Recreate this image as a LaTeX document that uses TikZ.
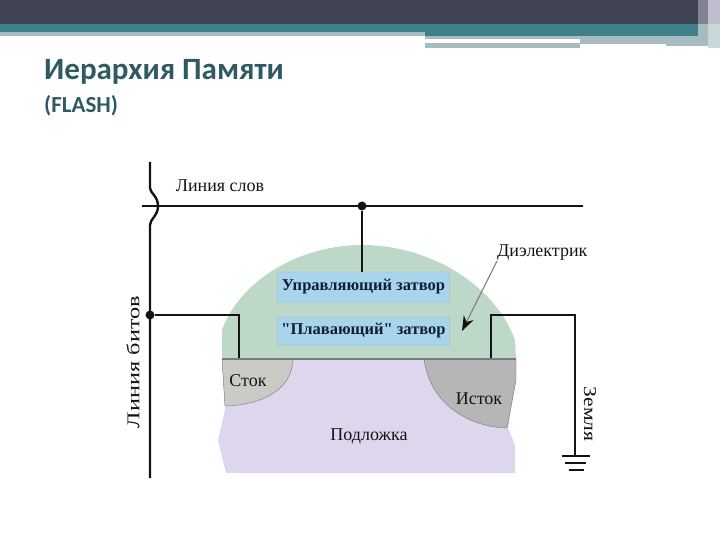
\documentclass[tikz,border=0pt]{standalone}
\usepackage{xcolor}
\usepackage{graphicx}
\usepackage{fontspec}
\setmainfont{Liberation Serif}
\newfontfamily\titlefont{Carlito}
\newfontfamily\gatefont{Liberation Serif}
\usetikzlibrary{arrows.meta, positioning, calc}
\definecolor{mydark}{RGB}{20,20,20}
\definecolor{hdrdark}{RGB}{64,68,85}
\definecolor{hdrteal}{RGB}{64,128,138}
\definecolor{hdrgrey}{RGB}{165,188,192}
\definecolor{hdrlav}{RGB}{190,190,205}
\definecolor{hdrstripe}{RGB}{130,132,150}
\definecolor{mytitle}{RGB}{47,90,99}
\definecolor{mygreen}{RGB}{190,216,200}
\definecolor{myblue}{RGB}{168,212,236}
\definecolor{mylav}{RGB}{222,214,236}
\definecolor{mydrain}{RGB}{202,202,198}
\definecolor{mysource}{RGB}{182,182,182}
\definecolor{myedge}{RGB}{120,120,125}
\definecolor{mynavy}{RGB}{15,30,60}
\tikzset{
  gatebox/.style={rectangle, fill=myblue, draw=myblue!85!black, minimum width=172pt, inner sep=0pt,
    font=\gatefont\fontsize{16.5}{18}\selectfont\bfseries, text=mynavy, rounded corners=1pt},
  lbl/.style={font=\fontsize{18}{20}\selectfont, text=mydark, inner sep=0pt},
  wire/.style={line width=2.4pt, color=mydark},
  wdot/.style={circle, fill=mydark, inner sep=0pt, minimum size=9pt}
}

\begin{document}
\begin{tikzpicture}[x=1pt, y=-1pt]
  \useasboundingbox (0,0) rectangle (720,540);
  % header bars
  \fill[hdrdark] (0,0) rectangle (720,24);
  \fill[hdrteal] (0,24) rectangle (720,32);
  \fill[hdrgrey] (0,32) rectangle (425,36);
  \fill[hdrteal] (425,32) rectangle (700,36);
  \fill[hdrgrey] (425,36) rectangle (700,39);
  \fill[hdrgrey] (425,43) rectangle (580,48);
  \fill[hdrgrey] (580,39) rectangle (666,44);
  \fill[hdrgrey] (666,36) rectangle (700,46);
  \fill[hdrstripe] (698,0) rectangle (708,24);
  \fill[hdrlav] (708,0) rectangle (720,24);
  \fill[hdrgrey] (698,24) rectangle (708,46);
  \fill[hdrgrey!60] (708,24) rectangle (720,48);
  % title
  \node[anchor=west, font=\titlefont\fontsize{31}{32}\selectfont\bfseries, text=mytitle, inner sep=0pt] (title) at (44,72) {Иерархия Памяти};
  \node[anchor=west, font=\titlefont\fontsize{23}{25}\selectfont\bfseries, text=mytitle, inner sep=0pt] (subtitle) at (44,106) {(FLASH)};
  % substrate
  \fill[mylav] (222,358) -- (225,410) -- (218,440) -- (226,473) -- (515,473) -- (515,445) -- (508,428) -- (516,380) -- (516,358) -- cycle;
  % drain and source
  \fill[mydrain, draw=myedge] (222,359) -- (293,359) .. controls (292,390) and (262,405) .. (225,406) -- cycle;
  \fill[mysource, draw=myedge] (424,359) -- (516,359) -- (516,380) -- (507,428) .. controls (470,427) and (430,405) .. (424,359) -- cycle;
  % floating gate dome
  \fill[mygreen] (222,358) -- (222,330) .. controls (240,280) and (300,245) .. (362,245) .. controls (430,245) and (495,285) .. (515,340) -- (516,358) -- cycle;
  \draw[myedge, line width=1.5pt] (222,359) -- (516,359);
  % gate boxes
  \node[gatebox, minimum height=30pt] (cgate) at (363.5,287) {Управляющий затвор};
  \node[gatebox, minimum height=28pt] (fgate) at (363.5,331) {"Плавающий" затвор};
  % named points
  \node[wdot] (wdot) at (362,206) {};
  \node[wdot] (bdot) at (150,315) {};
  \coordinate (wleft) at (142,206);
  \coordinate (wright) at (583,206);
  \coordinate (btop) at (150,162);
  \coordinate (bbot) at (150,478);
  \coordinate (drain) at (239,358);
  \coordinate (source) at (491,358);
  \coordinate (gnd) at (575,456);
  % word line and bit line
  \draw[wire] (wleft) -- (wright);
  \draw[wire] (btop) -- (150,188) .. controls (150,193) and (158,196) .. (158,206) .. controls (158,216) and (150,219) .. (150,225) -- (bbot);
  \draw[wire] (wdot) -- (cgate.north -| wdot);
  \draw[wire] (bdot) -| (drain);
  \draw[wire] (source) |- (575,315) -- (gnd);
  % ground
  \draw[wire, line width=2.5pt] (562,456) -- (590,456);
  \draw[wire, line width=2.5pt] (565,463) -- (586,463);
  \draw[wire, line width=2.5pt] (569,470) -- (584,470);
  % labels
  \node[lbl] (wlabel) at (220,186) {Линия слов};
  \node[lbl, anchor=west] (dlabel) at (497,253) {Диэлектрик};
  \node[lbl, rotate=90] (blabel) at (133,362) {\scalebox{1.35}[1]{Линия битов}};
  \node[lbl, rotate=-90] (glabel) at (590,414) {\scalebox{1.2}[1]{Земля}};
  \node[lbl] (slabel) at (248,381) {Сток};
  \node[lbl] (ilabel) at (479,399) {Исток};
  \node[lbl] (plabel) at (369,436) {Подложка};
  % dielectric pointer
  \coordinate (dtip) at (462,331);
  \draw[myedge, line width=1pt, -{Stealth[length=15pt, width=11pt, color=mydark]}] (dlabel.south west) -- (dtip);
\end{tikzpicture}
\end{document}
